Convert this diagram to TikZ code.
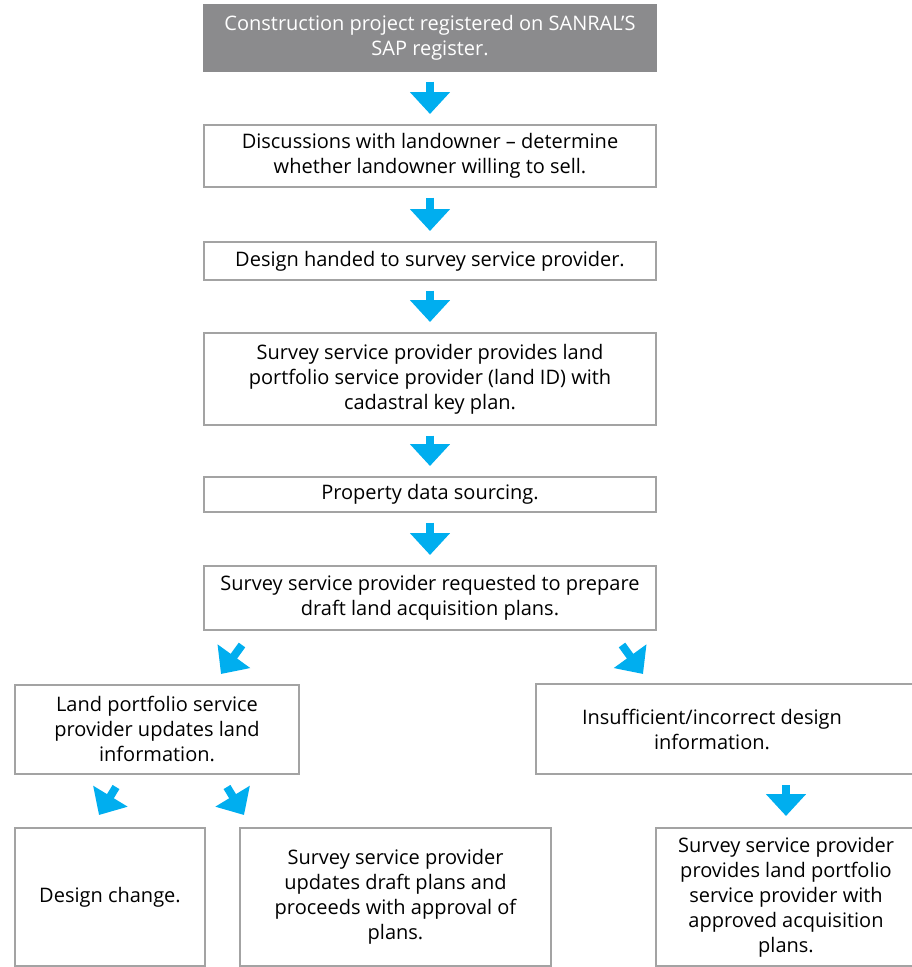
\documentclass[tikz,border=0pt]{standalone}
\usepackage{fontspec}
\setmainfont{Open Sans}
\usetikzlibrary{arrows.meta}
\definecolor{boxgray}{HTML}{A3A3A3}
\definecolor{headgray}{HTML}{8B8B8D}
\definecolor{flowblue}{HTML}{00AEEF}
\tikzset{
  stepbox/.style={draw=boxgray, line width=2pt, align=center, inner sep=0pt,
    font=\fontsize{20}{25}\selectfont},
  flow/.style={draw=flowblue, line width=8pt, -{Triangle[length=22pt,width=39pt]}},
  trunk/.style={flow, shorten <=9.5pt, shorten >=10pt}
}
\begin{document}
\begin{tikzpicture}[x=1pt,y=-1pt]
  \useasboundingbox (0,0) rectangle (911,967);

  \node[stepbox, fill=headgray, draw=headgray, text=white, minimum width=452pt, minimum height=66pt]
    at (430,38) (registered) {Construction project registered on SANRAL'S\\SAP register.};
  \node[stepbox, minimum width=452pt, minimum height=62pt]
    at (430,156) (discussions) {Discussions with landowner -- determine\\whether landowner willing to sell.};
  \node[stepbox, minimum width=452pt, minimum height=38pt]
    at (430,261) (handed) {Design handed to survey service provider.};
  \node[stepbox, minimum width=452pt, minimum height=92pt]
    at (430,379) (keyplan) {Survey service provider provides land\\portfolio service provider (land ID) with\\cadastral key plan.};
  \node[stepbox, minimum width=452pt, minimum height=35pt]
    at (430,494.5) (sourcing) {Property data sourcing.};
  \node[stepbox, minimum width=452pt, minimum height=64pt]
    at (430,598) (draftplans) {Survey service provider requested to prepare\\draft land acquisition plans.};

  \node[stepbox, minimum width=284pt, minimum height=89pt]
    at (157,729) (landinfo) {Land portfolio service\\provider updates land\\information.};
  \node[stepbox, draw=none, minimum width=350pt, minimum height=88pt]
    at (712,729) (insufficient) {Insufficient/incorrect design\\information.};
  \draw[boxgray, line width=2pt] (insufficient.north west) rectangle ([xshift=60pt]insufficient.south east);

  \node[stepbox, minimum width=190pt, minimum height=138pt]
    at (110,897) (change) {Design change.};
  \node[stepbox, minimum width=311pt, minimum height=138pt]
    at (395.5,897) (updates) {Survey service provider\\updates draft plans and\\proceeds with approval of\\plans.};
  \node[stepbox, minimum width=260pt, minimum height=138pt]
    at (786,897) (approved) {Survey service provider\\provides land portfolio\\service provider with\\approved acquisition\\plans.};

  \coordinate (split_l) at (242,645);
  \coordinate (split_l_end) at (221,674);
  \coordinate (split_r) at (622,645);
  \coordinate (split_r_end) at (643,674);
  \coordinate (land_l) at (116,787);
  \coordinate (land_l_end) at (99,815);
  \coordinate (land_r) at (227,787);
  \coordinate (land_r_end) at (244,815);

  \draw[trunk] (registered) -- (discussions);
  \draw[trunk] (discussions) -- (handed);
  \draw[trunk] (handed) -- (keyplan);
  \draw[trunk] (keyplan) -- (sourcing);
  \draw[trunk] (sourcing) -- (draftplans);

  \draw[flow] (split_l) -- (split_l_end);
  \draw[flow] (split_r) -- (split_r_end);
  \draw[flow] (land_l) -- (land_l_end);
  \draw[flow] (land_r) -- (land_r_end);
  \draw[trunk, shorten <=11pt, shorten >=11pt] (insufficient.south -| approved.north) -- (approved);

\end{tikzpicture}
\end{document}
